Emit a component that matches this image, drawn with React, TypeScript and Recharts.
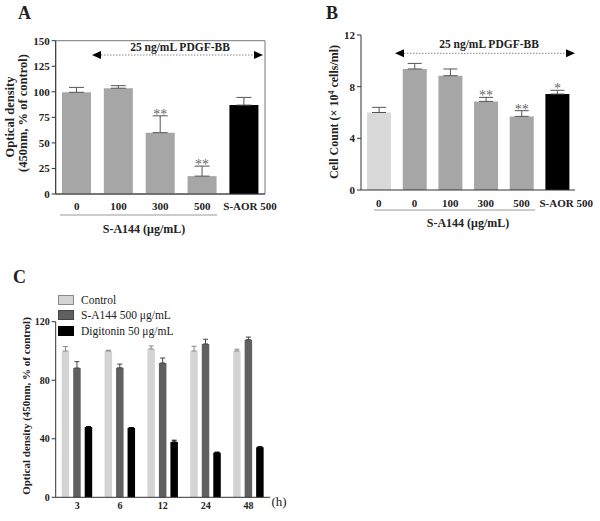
import React from "react";
import {
  BarChart,
  Bar,
  XAxis,
  YAxis,
  ErrorBar,
  Cell,
  LabelList,
  ReferenceArea,
  Legend,
} from "recharts";

const FONT = "'Liberation Serif', 'Times New Roman', serif";

// panel A: optical density
const doseLabelsA = ["0", "100", "300", "500", "S-AOR 500"];
const densityA = [99.5, 103.5, 60, 17.5, 87];
const densityErrA = [4.8, 2.5, 16.5, 9.8, 7.5];
const starsA = ["", "", "**", "**", ""];
const colorsA = ["#a6a6a6", "#a6a6a6", "#a6a6a6", "#a6a6a6", "#000000"];
const ticksA = [0, 25, 50, 75, 100, 125, 150];

// panel B: cell count
const doseLabelsB = ["0", "0", "100", "300", "500", "S-AOR 500"];
const countB = [6.0, 9.37, 8.85, 6.86, 5.7, 7.43];
const countErrB = [0.4, 0.43, 0.52, 0.31, 0.44, 0.29];
const starsB = ["", "", "", "**", "**", "*"];
const colorsB = ["#d9d9d9", "#a6a6a6", "#a6a6a6", "#a6a6a6", "#a6a6a6", "#000000"];
const ticksB = [0, 4, 8, 12];

// panel C: time course
const hoursC = ["3", "6", "12", "24", "48"];
const controlC = [100, 100, 101.4, 100, 100];
const controlErrC = [3, 0.5, 2, 3.2, 1.2];
const sa144C = [88.4, 88.5, 91.8, 104.8, 107.7];
const sa144ErrC = [4.3, 2.5, 3.4, 3.2, 1.8];
const digitoninC = [48, 47.4, 37.8, 30.5, 34.2];
const digitoninErrC = [0.3, 0.3, 1.2, 0.4, 0.4];
const ticksC = [0, 40, 80, 120];
const seriesOrderC = ["control", "sa144", "digitonin"];

const dataA = doseLabelsA.map((name, i) => ({
  name,
  value: densityA[i],
  err: [0, densityErrA[i]],
}));

const dataB = doseLabelsB.map((name, i) => ({
  name,
  value: countB[i],
  err: [0, countErrB[i]],
}));

const dataC = hoursC.map((name, i) => ({
  name,
  control: controlC[i],
  controlErr: [0, controlErrC[i]],
  sa144: sa144C[i],
  sa144Err: [0, sa144ErrC[i]],
  digitonin: digitoninC[i],
  digitoninErr: [0, digitoninErrC[i]],
}));

const AXIS = "#333";
const yTick = { fill: "#222", fontSize: 11, fontWeight: 700, fontFamily: FONT };
const yTickSmall = { fill: "#222", fontSize: 10, fontWeight: 700, fontFamily: FONT };

// x labels; the last (long) one sits a bit to the right like in the figure
const xTick = (count: number, shiftLast: number, size: number) => (props: any) => {
  const { x, y, payload, index } = props;
  return (
    <text
      x={x + (index === count - 1 ? shiftLast : 0)}
      y={y}
      dy="0.71em"
      textAnchor="middle"
      fontSize={size}
      fontWeight={700}
      fontFamily={FONT}
      fill="#222"
    >
      {payload.value}
    </text>
  );
};

const starLabel = (stars: string[], errs: number[], values: number[]) => (props: any) => {
  const { x, y, width, height, index } = props;
  const s = stars[index];
  if (!s) return null;
  const errTop = y - (height * errs[index]) / values[index];
  return (
    <text
      x={x + width / 2}
      y={errTop + 3}
      textAnchor="middle"
      fontSize={14}
      fill="#666"
      fontFamily={FONT}
    >
      {s}
    </text>
  );
};

const legendColors: Record<string, { fill: string; stroke: string }> = {
  control: { fill: "#d4d4d4", stroke: "#8a8a8a" },
  sa144: { fill: "#606060", stroke: "#444" },
  digitonin: { fill: "#000", stroke: "#000" },
};

const renderLegend = (props: any) => {
  const items = [...(props.payload || [])].sort(
    (a: any, b: any) => seriesOrderC.indexOf(a.dataKey) - seriesOrderC.indexOf(b.dataKey)
  );
  return (
    <div style={{ fontFamily: FONT, fontSize: 11.5, color: "#222" }}>
      {items.map((p: any) => {
        const c = legendColors[p.dataKey] || { fill: p.color, stroke: p.color };
        return (
          <div key={p.dataKey} style={{ display: "flex", alignItems: "center", height: 15.5 }}>
            <span
              style={{
                display: "inline-block",
                width: 14,
                height: 8,
                background: c.fill,
                border: `1px solid ${c.stroke}`,
                marginRight: 7,
              }}
            />
            <span>{p.value}</span>
          </div>
        );
      })}
    </div>
  );
};

function Arrow({ x1, x2, y }: { x1: number; x2: number; y: number }) {
  return (
    <g>
      <line x1={x1 + 9} x2={x2 - 9} y1={y} y2={y} stroke="#888" strokeDasharray="1.5 1.5" />
      <polygon points={`${x1},${y} ${x1 + 9},${y - 4} ${x1 + 9},${y + 4}`} fill="#000" />
      <polygon points={`${x2},${y} ${x2 - 9},${y - 4} ${x2 - 9},${y + 4}`} fill="#000" />
    </g>
  );
}

export default function App() {
  const bold = { fontFamily: FONT, fontWeight: 700, fill: "#222" } as const;
  return (
    <div style={{ position: "absolute", left: 0, top: 0, width: 600, height: 521, background: "#fff" }}>
      {/* A */}
      <div style={{ position: "absolute", left: 0, top: 0 }}>
        <BarChart
          width={300}
          height={260}
          data={dataA}
          margin={{ top: 40.7, right: 35, bottom: 46, left: 15.7 }}
          barCategoryGap="15%"
        >
          <XAxis
            dataKey="name"
            height={20}
            interval={0}
            tick={xTick(doseLabelsA.length, 6, 11)}
            tickSize={4}
            tickMargin={4}
            tickLine={false}
            axisLine={{ stroke: AXIS }}
          />
          <YAxis
            width={40}
            domain={[0, 150]}
            ticks={ticksA}
            interval={0}
            tick={yTick}
            fontSize={11}
            fontWeight={700}
            fontFamily={FONT}
            tickSize={4}
            tickMargin={2}
            tickLine={{ stroke: AXIS }}
            axisLine={{ stroke: AXIS }}
          />
          <ReferenceArea
            x1="0"
            x2="S-AOR 500"
            y1={0}
            y2={150}
            fill="none"
            stroke="#777"
            ifOverflow="visible"
          />
          <Bar dataKey="value" isAnimationActive={false}>
            {dataA.map((d, i) => (
              <Cell key={`a-${i}`} fill={colorsA[i]} />
            ))}
            <ErrorBar dataKey="err" direction="y" width={7.5} stroke="#555" strokeWidth={1} />
            <LabelList dataKey="value" content={starLabel(starsA, densityErrA, densityA)} />
          </Bar>
        </BarChart>
      </div>

      {/* B */}
      <div style={{ position: "absolute", left: 300, top: 0 }}>
        <BarChart
          width={300}
          height={260}
          data={dataB}
          margin={{ top: 35, right: 25, bottom: 50, left: 21 }}
          barCategoryGap="17%"
        >
          <XAxis
            dataKey="name"
            height={20}
            interval={0}
            tick={xTick(doseLabelsB.length, 9, 11)}
            tickSize={4}
            tickMargin={5}
            tickLine={false}
            axisLine={{ stroke: AXIS }}
          />
          <YAxis
            width={40}
            domain={[0, 12]}
            ticks={ticksB}
            interval={0}
            tick={yTick}
            fontSize={11}
            fontWeight={700}
            fontFamily={FONT}
            tickSize={4}
            tickMargin={2}
            tickLine={{ stroke: AXIS }}
            axisLine={{ stroke: AXIS }}
          />
          <ReferenceArea
            x1="0"
            x2="S-AOR 500"
            y1={0}
            y2={12}
            fill="none"
            stroke="#777"
            ifOverflow="visible"
          />
          <Bar dataKey="value" isAnimationActive={false}>
            {dataB.map((d, i) => (
              <Cell key={`b-${i}`} fill={colorsB[i]} />
            ))}
            <ErrorBar dataKey="err" direction="y" width={7} stroke="#555" strokeWidth={1} />
            <LabelList dataKey="value" content={starLabel(starsB, countErrB, countB)} />
          </Bar>
        </BarChart>
      </div>

      {/* C */}
      <div style={{ position: "absolute", left: 0, top: 260 }}>
        <BarChart
          width={300}
          height={261}
          data={dataC}
          margin={{ top: 61.7, right: 30, bottom: 3.7, left: 15.7 }}
          barSize={7.5}
          barGap={4}
        >
          <XAxis
            dataKey="name"
            height={20}
            interval={0}
            tick={xTick(hoursC.length, 0, 10)}
            tickSize={4}
            tickMargin={1}
            tickLine={false}
            axisLine={{ stroke: AXIS }}
          />
          <YAxis
            width={40}
            domain={[0, 120]}
            ticks={ticksC}
            interval={0}
            tick={yTickSmall}
            fontSize={10}
            fontWeight={700}
            fontFamily={FONT}
            tickSize={4}
            tickMargin={2}
            tickLine={{ stroke: AXIS }}
            axisLine={{ stroke: AXIS }}
          />
          <Legend
            layout="vertical"
            align="center"
            verticalAlign="middle"
            wrapperStyle={{ position: "absolute", top: 32, left: 58, width: 200 }}
            content={renderLegend}
          />
          <Bar dataKey="control" name="Control" fill="#d4d4d4" isAnimationActive={false}>
            <ErrorBar dataKey="controlErr" direction="y" width={2.5} stroke="#888" strokeWidth={1} />
          </Bar>
          <Bar dataKey="sa144" name="S-A144 500 μg/mL" fill="#606060" isAnimationActive={false}>
            <ErrorBar dataKey="sa144Err" direction="y" width={2.5} stroke="#444" strokeWidth={1} />
          </Bar>
          <Bar dataKey="digitonin" name="Digitonin 50 μg/mL" fill="#000000" isAnimationActive={false}>
            <ErrorBar dataKey="digitoninErr" direction="y" width={2.5} stroke="#000" strokeWidth={1} />
          </Bar>
        </BarChart>
      </div>

      {/* annotations */}
      <svg
        width={600}
        height={521}
        style={{ position: "absolute", left: 0, top: 0, pointerEvents: "none" }}
      >
        {/* panel A */}
        <text x={18} y={18.5} fontSize={18} {...bold}>A</text>
        <text
          textAnchor="middle"
          fontSize={12.5}
          {...bold}
          transform="translate(13.5,117) rotate(-90)"
        >
          Optical density
        </text>
        <text
          textAnchor="middle"
          fontSize={12.5}
          {...bold}
          transform="translate(26.5,113) rotate(-90)"
        >
          (450nm, % of control)
        </text>
        <text x={180} y={51} textAnchor="middle" fontSize={11.5} {...bold}>25 ng/mL PDGF-BB</text>
        <Arrow x1={92} x2={263} y={55} />
        <line x1={60} x2={217} y1={215} y2={215} stroke="#999" />
        <text x={144} y={233} textAnchor="middle" fontSize={12} {...bold}>S-A144 (μg/mL)</text>

        {/* panel B */}
        <text x={326} y={18.5} fontSize={18} {...bold}>B</text>
        <text
          textAnchor="middle"
          fontSize={12}
          {...bold}
          transform="translate(338,112) rotate(-90)"
        >
          Cell Count (× 10<tspan dy={-4} fontSize={8}>4</tspan><tspan dy={4}> cells/ml)</tspan>
        </text>
        <text x={489} y={48} textAnchor="middle" fontSize={11.5} {...bold}>25 ng/mL PDGF-BB</text>
        <Arrow x1={395} x2={575} y={53.3} />
        <line x1={374} x2={535} y1={210} y2={210} stroke="#999" />
        <text x={468} y={226.5} textAnchor="middle" fontSize={12} {...bold}>S-A144 (μg/mL)</text>

        {/* panel C */}
        <text x={13} y={283} fontSize={18} {...bold}>C</text>
        <text
          textAnchor="middle"
          fontSize={11}
          {...bold}
          transform="translate(30,406) rotate(-90)"
        >
          Optical density (450nm, % of control)
        </text>
        <text x={279} y={506} textAnchor="middle" fontSize={13} fontFamily={FONT} fill="#222">(h)</text>
      </svg>
    </div>
  );
}
